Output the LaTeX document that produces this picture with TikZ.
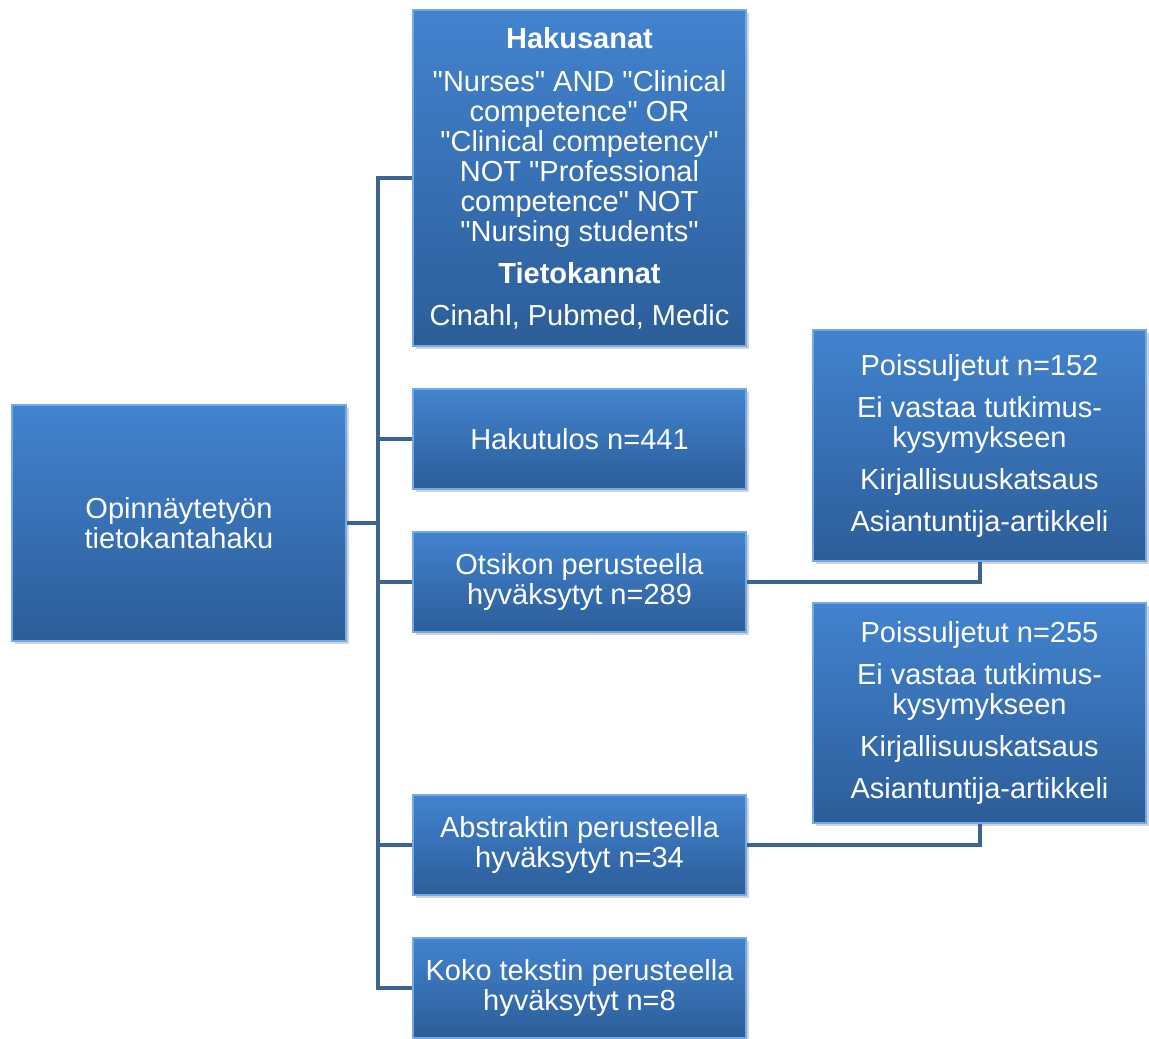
\documentclass[tikz,border=0pt]{standalone}
\usepackage{fontspec}
\setmainfont{Liberation Sans}[Ligatures=TeXOff]
\usetikzlibrary{shadows}
\definecolor{boxtop}{RGB}{66,131,207}
\definecolor{boxbot}{RGB}{44,93,153}
\definecolor{edgec}{RGB}{115,170,228}
\definecolor{connc}{RGB}{62,98,145}
\tikzset{
  box/.style={rectangle, top color=boxtop, bottom color=boxbot, draw=edgec, line width=1.2pt,
    text=white, align=center, font=\fontsize{29}{30}\selectfont, inner sep=0pt,
    drop shadow={opacity=0.35, shadow xshift=3pt, shadow yshift=-3pt}},
  connector/.style={draw=connc, line width=4pt},
}
\begin{document}
\begin{tikzpicture}[x=1pt,y=-1pt]
\useasboundingbox (0,0) rectangle (1149,1039);
\node[box, minimum width=334, minimum height=236] (root) at (179,523) {Opinnäytetyön\\tietokantahaku};
\node[box, minimum width=333, minimum height=336] (hak) at (579.5,178)
 {\textbf{Hakusanat}\\[13pt]
  "Nurses" AND "Clinical\\ competence" OR\\ "Clinical competency"\\ NOT "Professional\\ competence" NOT\\ "Nursing students"\\[12pt]
  \textbf{Tietokannat}\\[12pt] Cinahl, Pubmed, Medic};
\node[box, minimum width=333, minimum height=100] (tulos) at (579.5,439) {Hakutulos n=441};
\node[box, minimum width=333, minimum height=100] (ots) at (579.5,582) {Otsikon perusteella\\hyväksytyt n=289};
\node[box, minimum width=333, minimum height=100] (abs) at (579.5,845) {Abstraktin perusteella\\hyväksytyt n=34};
\node[box, minimum width=333, minimum height=100] (koko) at (579.5,988) {Koko tekstin perusteella\\hyväksytyt n=8};
\node[box, minimum width=333, minimum height=231] (p1) at (979.5,445.5)
 {Poissuljetut n=152\\[12pt] Ei vastaa tutkimus-\\ kysymykseen\\[12pt] Kirjallisuuskatsaus\\[12pt] Asiantuntija-artikkeli};
\node[box, minimum width=333, minimum height=220] (p2) at (979.5,713)
 {Poissuljetut n=255\\[12pt] Ei vastaa tutkimus-\\ kysymykseen\\[12pt] Kirjallisuuskatsaus\\[12pt] Asiantuntija-artikkeli};
\coordinate (trunk) at (378,0);
\draw[connector] (hak.west) -| (trunk |- koko.west) -- (koko.west);
\draw[connector] (root.east) -- (trunk |- root.east);
\draw[connector] (trunk |- tulos.west) -- (tulos.west);
\draw[connector] (trunk |- ots.west) -- (ots.west);
\draw[connector] (trunk |- abs.west) -- (abs.west);
\draw[connector] (ots.east) -| (p1.south);
\draw[connector] (abs.east) -| (p2.south);
\end{tikzpicture}
\end{document}
